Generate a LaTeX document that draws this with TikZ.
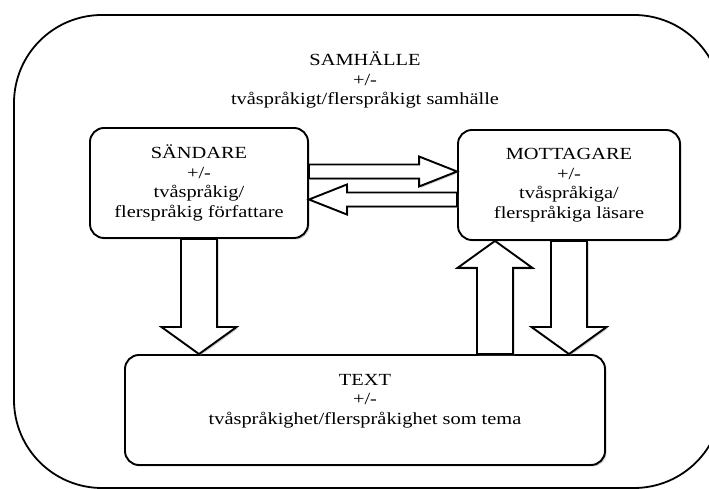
\documentclass[tikz,border=0pt]{standalone}
\usepackage{fontspec}
\setmainfont{Liberation Serif}[FakeStretch=1.2]
\usetikzlibrary{calc, shadows}

\newcommand{\fatarrow}[6]{%
  \coordinate (#1base) at ($(#3)!#6!(#2)$);
  \draw[fat] ($(#2)!#4!90:(#3)$) -- ($(#1base)!#4!90:(#3)$) -- ($(#1base)!#5!90:(#3)$) -- (#3)
    -- ($(#1base)!#5!-90:(#3)$) -- ($(#1base)!#4!-90:(#3)$) -- ($(#2)!#4!-90:(#3)$) -- cycle;
}

\begin{document}
\begin{tikzpicture}[
x=1pt, y=1pt,
font=\fontsize{17}{19.5}\selectfont,
shade/.style={drop shadow={shadow xshift=1.5pt, shadow yshift=-1.5pt, opacity=0.4}},
box/.style={draw,
line width=1.9pt,
rounded corners=14pt,
fill=white,
align=center,
shade},
fat/.style={draw, line width=1.9pt, fill=white, line join=miter, shade}
]

\useasboundingbox (0,0) rectangle (709,489);
\clip (0,0) rectangle (709,489);

\node[draw, line width=1.8pt, rounded corners=88pt, minimum width=708pt, minimum height=473pt] (samhalle) at (368,237.5) {};
\node[align=center] (samhalletext) at (365,409) {SAMHÄLLE\\+/-\\tvåspråkigt/flerspråkigt samhälle};

\node[box, minimum width=218pt, minimum height=110pt] (sandare) at (199,306) {SÄNDARE\\+/-\\tvåspråkig/\\flerspråkig författare};
\node[box, minimum width=222pt, minimum height=110pt] (mottagare) at (569,304) {MOTTAGARE\\+/-\\tvåspråkiga/\\flerspråkiga läsare};
\node[box, minimum width=480pt, minimum height=110pt,
label={[align=center, yshift=9pt]center:TEXT\\+/-\\tvåspråkighet/flerspråkighet som tema}] (textbox) at (365,79) {};

\coordinate (right0) at ($(sandare.east)+(0,11.5)$);
\coordinate (right1) at (mottagare.west |- right0);
\coordinate (left0) at ($(mottagare.west)+(0,-14.5)$);
\coordinate (left1) at (sandare.east |- left0);
\coordinate (down1) at (sandare.south |- textbox.north);
\coordinate (up1) at ($(mottagare.south)+(-74,0)$);
\coordinate (up0) at (up1 |- textbox.north);
\coordinate (back1) at (mottagare.south |- textbox.north);

\fatarrow{right}{right0}{right1}{7pt}{15pt}{38pt}
\fatarrow{left}{left0}{left1}{7pt}{15pt}{38pt}
\fatarrow{down}{sandare.south}{down1}{18pt}{37.5pt}{27pt}
\fatarrow{up}{up0}{up1}{18pt}{37.5pt}{27pt}
\fatarrow{back}{mottagare.south}{back1}{18pt}{37.5pt}{27pt}

\end{tikzpicture}
\end{document}
